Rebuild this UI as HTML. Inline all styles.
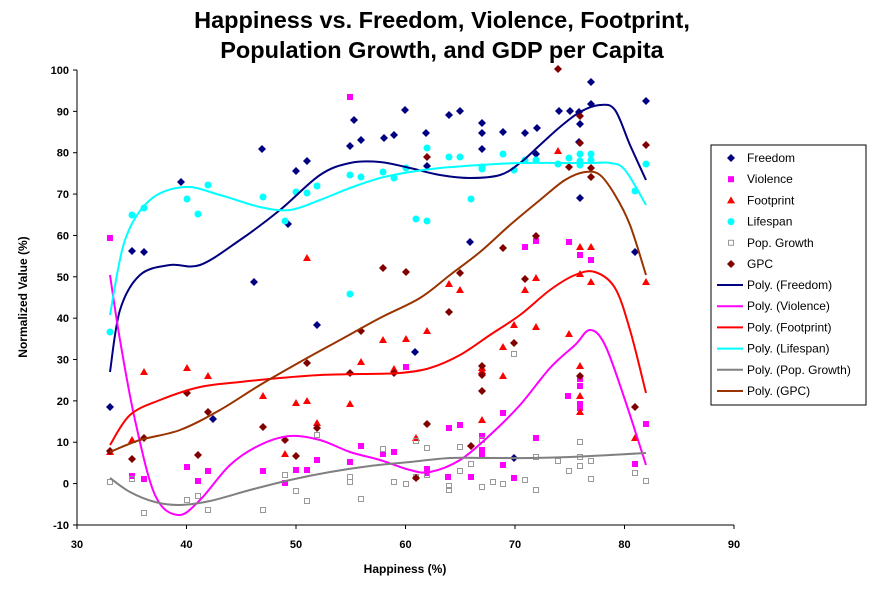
<!DOCTYPE html>
<html><head><meta charset="utf-8"><style>
body{margin:0;background:#fff;}
svg text{font-family:"Liberation Sans",Arial,sans-serif;}
</style></head><body>
<svg id="s" width="882" height="584" xmlns="http://www.w3.org/2000/svg">
<rect width="882" height="584" fill="#fff"/>
<text x="442" y="28" font-size="23.5" font-weight="bold" text-anchor="middle">Happiness vs. Freedom, Violence, Footprint,</text>
<text x="442" y="58" font-size="23.5" font-weight="bold" text-anchor="middle">Population Growth, and GDP per Capita</text>
<g id="axes"></g>
<g id="pts"></g>
<g id="curves" fill="none" stroke-width="2"></g>
<text x="405" y="573" font-size="12" font-weight="bold" text-anchor="middle">Happiness (%)</text>
<text transform="translate(27,297) rotate(-90)" font-size="12" font-weight="bold" text-anchor="middle">Normalized Value (%)</text>
<rect x="711" y="145" width="155" height="260" fill="#fff" stroke="#000"/>
<g id="leg" font-size="12"></g>
</svg>
<script>
const NS="http://www.w3.org/2000/svg";
function el(p,t,a,txt){const e=document.createElementNS(NS,t);for(const k in a)e.setAttribute(k,a[k]);if(txt!=null)e.textContent=txt;p.appendChild(e);return e;}
const ax=document.getElementById('axes');
const x0=77,x1=734,y0=70,y1=525;
el(ax,'line',{x1:x0,y1:y0,x2:x0,y2:y1,stroke:'#000'});
el(ax,'line',{x1:x0,y1:y1,x2:x1,y2:y1,stroke:'#000'});
for(let v=-10;v<=100;v+=10){const y=483.6-v*4.136;el(ax,'line',{x1:x0-4,y1:y,x2:x0,y2:y,stroke:'#000'});el(ax,'text',{x:x0-8,y:y+4,'font-size':11,'font-weight':'bold','text-anchor':'end'},v);}
for(let v=30;v<=90;v+=10){const x=77+(v-30)*10.95;el(ax,'line',{x1:x,y1:y1,x2:x,y2:y1+4,stroke:'#000'});el(ax,'text',{x:x,y:y1+23,'font-size':11,'font-weight':'bold','text-anchor':'middle'},v);}
function P(s){return s.split('),(').map(t=>t.replace(/[()]/g,'').split(',').map(Number));}
const pts=document.getElementById('pts');
function diamond(g,x,y,c){el(g,'polygon',{points:`${x},${y-4} ${x+4},${y} ${x},${y+4} ${x-4},${y}`,fill:c});}
function sq(g,x,y,c){el(g,'rect',{x:x-3,y:y-3,width:6,height:6,fill:c});}
function tri(g,x,y,c){el(g,'polygon',{points:`${x},${y-4} ${x+4},${y+3} ${x-4},${y+3}`,fill:c});}
function circ(g,x,y,c){el(g,'circle',{cx:x,cy:y,r:3.5,fill:c});}
function osq(g,x,y,c){el(g,'rect',{x:x-2.5,y:y-2.5,width:5,height:5,fill:'none',stroke:c,'stroke-width':1});}
const F="(110,407),(132,251),(144,252),(181,182),(213,419),(254,282),(262,149),(288,224),(296,171),(307,161),(317,325),(350,146),(361,140),(354,120),(384,138),(394,135),(405,110),(415,352),(426,133),(427,166),(449,115),(460,111),(470,242),(482,133),(482,123),(482,149),(503,132),(514,458),(525,133),(536,154),(537,128),(559,111),(570,111),(579,112),(579,142),(580,124),(580,198),(591,82),(591,104),(635,252),(646,101)";
const V="(110,238),(132,476),(144,479),(187,467),(198,481),(208,471),(263,471),(285,483),(296,470),(307,470),(317,460),(350,462),(350,97),(361,446),(383,454),(394,452),(406,367),(427,473),(427,469),(448,477),(449,428),(460,425),(471,477),(482,436),(482,450),(482,455),(503,413),(503,465),(514,478),(525,247),(536,241),(536,438),(569,242),(568,396),(580,408),(580,404),(580,386),(580,379),(580,255),(591,260),(635,464),(646,424)";
const FP="(110,452),(132,440),(144,372),(187,368),(208,376),(263,396),(285,454),(296,403),(307,401),(317,423),(307,258),(350,404),(361,362),(383,340),(394,369),(406,339),(416,438),(427,331),(449,284),(460,290),(482,420),(482,371),(482,368),(503,347),(503,376),(514,325),(525,290),(536,327),(536,278),(558,151),(569,334),(580,412),(580,396),(580,366),(580,274),(580,247),(591,247),(591,282),(635,438),(646,282)";
const L="(110,332),(132,215),(144,208),(187,199),(198,214),(208,185),(263,197),(285,221),(296,192),(307,193),(317,186),(350,294),(350,175),(361,177),(383,172),(394,178),(406,168),(416,219),(427,221),(427,148),(449,157),(460,157),(471,199),(482,169),(482,167),(503,154),(514,170),(525,160),(536,160),(558,164),(569,158),(580,154),(580,165),(580,161),(591,154),(591,160),(635,191),(646,164)";
const PG="(110,482),(132,479),(144,513),(187,500),(198,496),(208,510),(263,510),(285,475),(296,491),(307,501),(317,435),(350,477),(350,482),(361,499),(383,449),(394,482),(406,484),(416,441),(416,477),(427,448),(427,475),(449,490),(449,486),(460,471),(460,447),(471,464),(482,440),(482,487),(493,482),(503,484),(514,354),(525,480),(536,490),(536,457),(558,461),(569,471),(580,442),(580,466),(580,457),(591,479),(591,461),(635,473),(646,481)";
const G="(110,451),(132,459),(144,438),(187,393),(198,455),(208,412),(263,427),(285,440),(296,456),(307,363),(317,428),(350,373),(361,331),(383,268),(394,373),(406,272),(416,478),(427,424),(427,157),(449,312),(460,273),(471,446),(482,366),(482,375),(482,391),(503,248),(514,343),(525,279),(536,236),(558,69),(569,167),(580,376),(580,143),(580,116),(591,168),(591,177),(635,407),(646,145)";
P(F).forEach(p=>diamond(pts,p[0],p[1],'#000080'));
P(V).forEach(p=>sq(pts,p[0],p[1],'#ff00ff'));
P(FP).forEach(p=>tri(pts,p[0],p[1],'#ff0000'));
P(L).forEach(p=>circ(pts,p[0],p[1],'#00ffff'));
P(PG).forEach(p=>osq(pts,p[0],p[1],'#999999'));
P(G).forEach(p=>diamond(pts,p[0],p[1],'#800000'));
const cv=document.getElementById('curves');
function smooth(a){let d=`M${a[0][0]},${a[0][1]}`;for(let i=0;i<a.length-1;i++){const p0=a[i-1]||a[i],p1=a[i],p2=a[i+1],p3=a[i+2]||p2;d+=` C${p1[0]+(p2[0]-p0[0])/6},${p1[1]+(p2[1]-p0[1])/6} ${p2[0]-(p3[0]-p1[0])/6},${p2[1]-(p3[1]-p1[1])/6} ${p2[0]},${p2[1]}`;}return d;}
const curves=[
["#000080","(110,372),(120,310),(140,275),(170,265),(200,265),(240,240),(280,210),(320,175),(350,163),(380,162),(410,168),(440,175),(470,178),(500,175),(520,163),(540,145),(560,127),(580,112),(600,105),(615,110),(630,145),(646,180)"],
["#ff00ff","(110,275),(120,340),(135,420),(155,495),(178,515),(200,500),(230,465),(260,445),(290,436),(320,440),(350,452),(380,460),(410,470),(430,472),(460,460),(490,435),(520,405),(550,368),(575,345),(590,330),(605,345),(625,400),(646,465)"],
["#ff0000","(110,445),(130,415),(160,400),(200,387),(240,382),(280,378),(320,375),(360,374),(400,373),(430,368),(460,355),(490,335),(520,315),(550,290),(575,275),(595,272),(615,288),(630,330),(646,393)"],
["#00ffff","(110,315),(125,240),(150,200),(185,187),(220,195),(260,207),(290,210),(320,200),(350,188),(380,178),(410,172),(440,168),(480,165),(520,163),(560,163),(590,163),(610,163),(625,170),(646,205)"],
["#808080","(110,478),(130,492),(155,502),(180,505),(210,501),(250,490),(290,480),(330,472),(370,466),(410,462),(450,458),(490,458),(530,458),(570,457),(610,455),(646,453)"],
["#993300","(110,452),(140,440),(180,430),(220,410),(260,385),(300,362),(340,340),(380,318),(420,298),(450,275),(480,252),(510,225),(540,200),(565,180),(585,172),(600,175),(615,195),(630,225),(646,275)"]];
curves.forEach(c=>el(cv,'path',{d:smooth(P(c[1])),stroke:c[0]}));
const lg=document.getElementById('leg');
const names=["Freedom","Violence","Footprint","Lifespan","Pop. Growth","GPC"];
const fns=[(x,y)=>diamond(lg,x,y,'#000080'),(x,y)=>sq(lg,x,y,'#ff00ff'),(x,y)=>tri(lg,x,y,'#ff0000'),(x,y)=>circ(lg,x,y,'#00ffff'),(x,y)=>osq(lg,x,y,'#999999'),(x,y)=>diamond(lg,x,y,'#800000')];
for(let i=0;i<6;i++){const y=158+i*21.2;fns[i](731,y);el(lg,'text',{x:747,y:y+4},names[i]);}
const cn=["Poly. (Freedom)","Poly. (Violence)","Poly. (Footprint)","Poly. (Lifespan)","Poly. (Pop. Growth)","Poly. (GPC)"];
for(let i=0;i<6;i++){const y=285+i*21.2;el(lg,'line',{x1:717,y1:y,x2:743,y2:y,stroke:curves[i][0],'stroke-width':2});el(lg,'text',{x:747,y:y+4},cn[i]);}
</script>
</body></html>
